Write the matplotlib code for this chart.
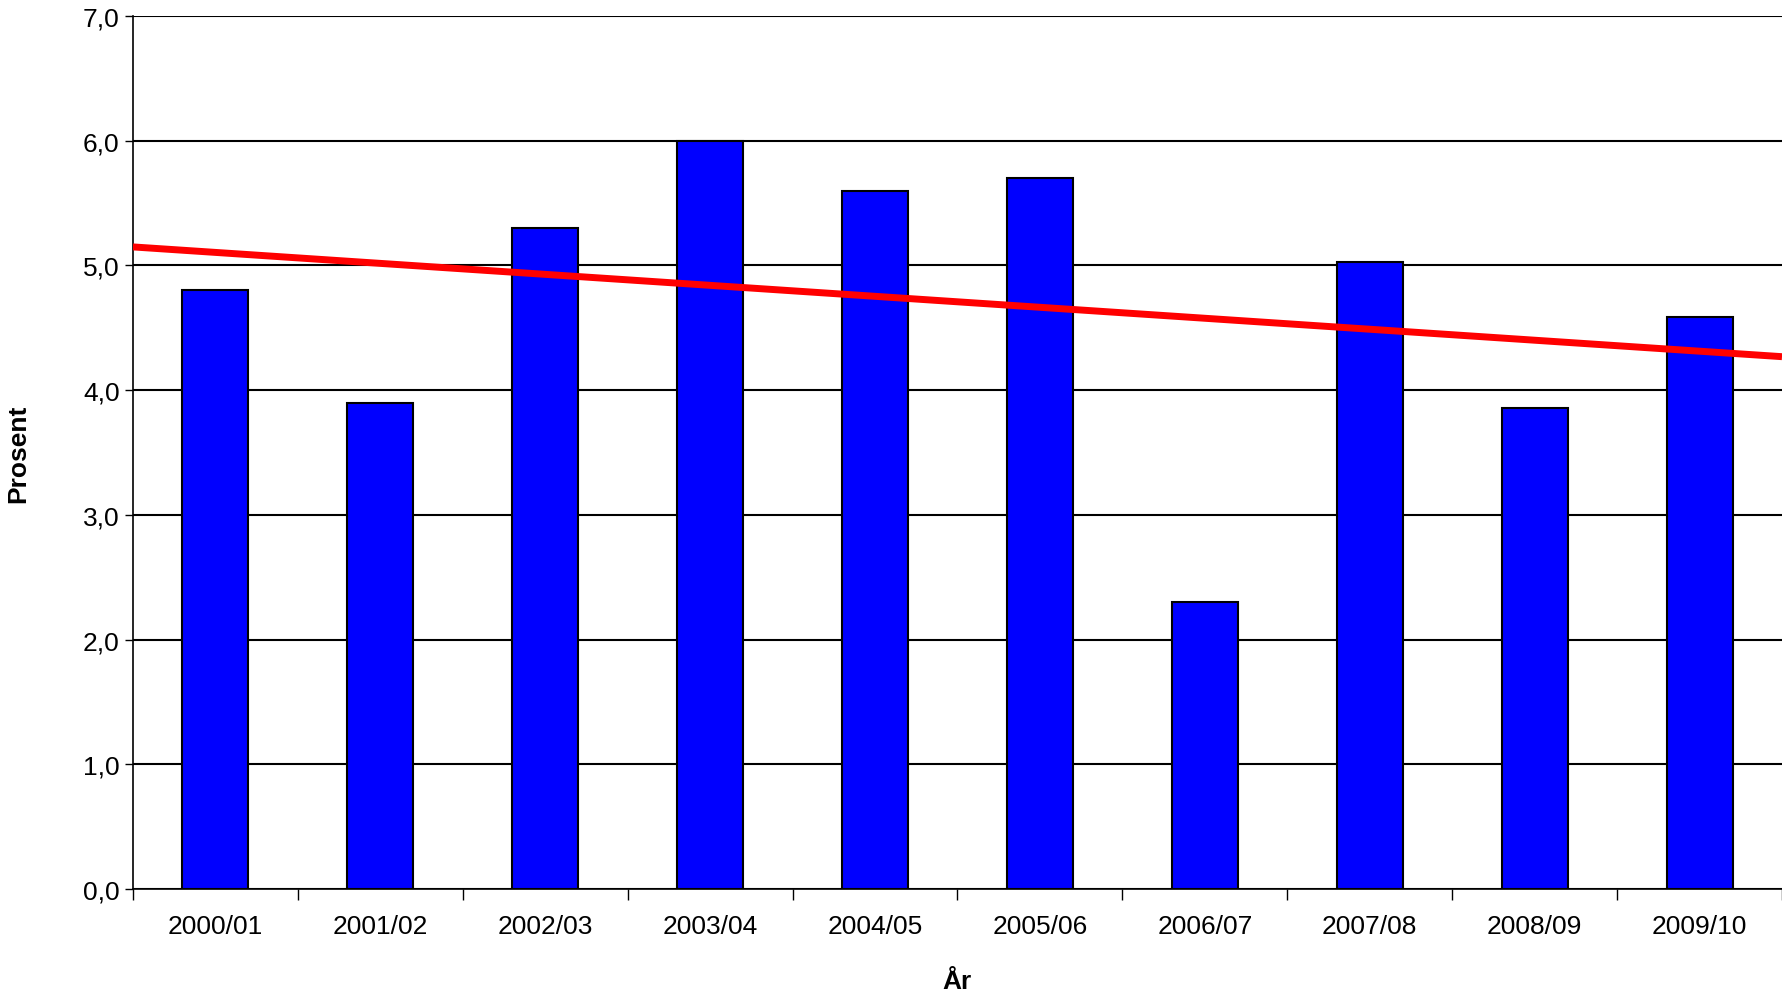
import matplotlib
matplotlib.use("Agg")
import matplotlib.pyplot as plt
import numpy as np

categories = ["2000/01","2001/02","2002/03","2003/04","2004/05","2005/06","2006/07","2007/08","2008/09","2009/10"]
values = [4.8, 3.9, 5.3, 6.0, 5.6, 5.7, 2.3, 5.03, 3.86, 4.59]

plt.rcParams['font.family'] = ['Liberation Sans', 'DejaVu Sans']
fig = plt.figure(figsize=(17.82, 9.95), dpi=100)
ax = fig.add_axes([0.0746, 0.1055, 0.9254, 0.8775])
x = np.arange(len(values))
ax.bar(x, values, width=0.4, color='#0000ff', edgecolor='black', linewidth=1.5, zorder=3)
coef = np.polyfit(x, values, 1)
xl = np.array([-0.5, 9.5])
ax.plot(xl, np.polyval(coef, xl), color='#ff0000', linewidth=5, zorder=4, solid_capstyle='butt')
ax.set_xlim(-0.5, 9.5)
ax.set_ylim(0, 7)
ax.set_yticks(np.arange(0, 7.01, 1))
ax.set_yticklabels([f"{v:.1f}".replace('.', ',') for v in np.arange(0, 7.01, 1)], fontsize=19)
ax.set_xticks(np.arange(-0.5, 9.6, 1))
ax.set_xticklabels([])
ax.set_xticks(x, minor=True)
ax.set_xticklabels(categories, minor=True, fontsize=19)
ax.tick_params(axis='x', which='minor', length=0, pad=18)
ax.tick_params(axis='x', which='major', length=8, width=1)
ax.tick_params(axis='y', length=6, width=1)
ax.grid(axis='y', color='black', linewidth=1.5, zorder=0)
for s in ['top', 'right']:
    ax.spines[s].set_visible(False)
ax.spines['left'].set_linewidth(1.2)
ax.spines['bottom'].set_linewidth(1.2)
ax.set_ylabel("Prosent", fontsize=19, fontweight='bold', labelpad=38)
ax.set_xlabel("År", fontsize=19, fontweight='bold', labelpad=22)
fig.savefig("out.png", dpi=100)
